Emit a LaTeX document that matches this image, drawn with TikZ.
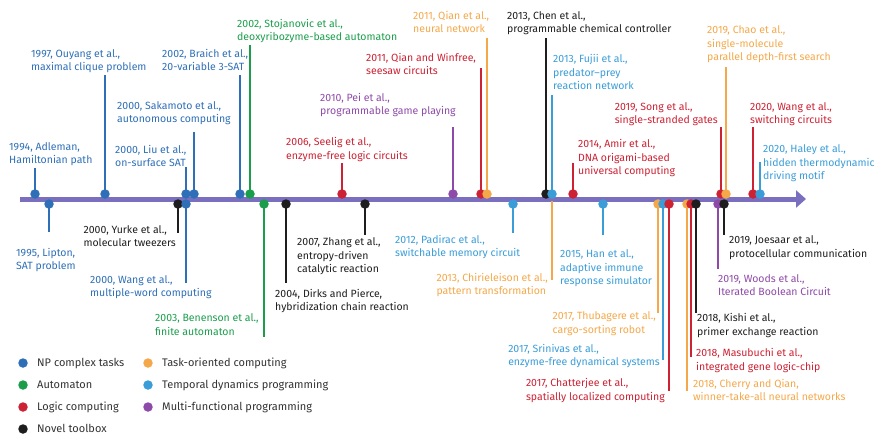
\documentclass[tikz,border=0pt]{standalone}
\usepackage{fontspec}
\setsansfont{Fira Sans}
\usepackage{xcolor}
\usepackage{tikz}
\usetikzlibrary{arrows.meta, backgrounds}
\definecolor{npblue}{HTML}{2E6FB7}
\definecolor{autogreen}{HTML}{1B9E4B}
\definecolor{logicred}{HTML}{CC2233}
\definecolor{toolblack}{HTML}{1E1E1E}
\definecolor{taskorange}{HTML}{F5A84A}
\definecolor{tempblue}{HTML}{3A9DD8}
\definecolor{multipurple}{HTML}{8E4AA8}
\definecolor{axispurple}{HTML}{7A6FBF}
\definecolor{legendgray}{HTML}{333333}
\tikzset{
  dot/.style={circle, inner sep=0pt, minimum size=9.5pt},
  stem/.style={line width=1.6pt},
  lbl/.style={font=\fontsize{10.5}{13.5}\selectfont\sffamily, align=left, inner sep=0pt, anchor=base west},
  lblr/.style={lbl, anchor=base east},
  legendtext/.style={font=\fontsize{11}{12}\selectfont\sffamily, color=legendgray, inner sep=0pt, anchor=base west},
  timeline/.style={line width=5pt, draw=axispurple, -{Triangle[length=10pt, width=17pt]}},
}

\begin{document}
\begin{tikzpicture}[x=1pt, y=-1pt]
  \useasboundingbox (0,0) rectangle (879,434);

  % Axis
  \coordinate (axisstart) at (20,199);
  \coordinate (axisend) at (806,199);

  % Events above the axis (label anchor = baseline of last line)
  \node[dot, fill=npblue] (adleman) at (35,194) {};
  \coordinate (adleman-end) at (35,168);
  \node[lbl, npblue] (adleman-lbl) at (9,163.5) {1994, Adleman,\\Hamiltonian path};

  \node[dot, fill=npblue] (ouyang) at (105,194) {};
  \coordinate (ouyang-end) at (105,75);
  \node[lbl, npblue] (ouyang-lbl) at (31,70.5) {1997, Ouyang et al.,\\maximal clique problem};

  \node[dot, fill=npblue] (liu) at (186,194) {};
  \coordinate (liu-end) at (186,167);
  \node[lbl, npblue] (liu-lbl) at (115,166.5) {2000, Liu et al.,\\on-surface SAT};

  \node[dot, fill=npblue] (sakamoto) at (194,194) {};
  \coordinate (sakamoto-end) at (194,132);
  \node[lbl, npblue] (sakamoto-lbl) at (117,122.5) {2000, Sakamoto et al.,\\autonomous computing};

  \node[dot, fill=npblue] (braich) at (240,194) {};
  \coordinate (braich-end) at (240,75);
  \node[lbl, npblue] (braich-lbl) at (162,70.5) {2002, Braich et al.,\\20-variable 3-SAT};

  \node[dot, fill=autogreen] (stojanovic) at (250,194) {};
  \coordinate (stojanovic-end) at (250,45);
  \node[lbl, autogreen] (stojanovic-lbl) at (237,40.5) {2002, Stojanovic et al.,\\deoxyribozyme-based automaton};

  \node[dot, fill=logicred] (seelig) at (342,194) {};
  \coordinate (seelig-end) at (342,163);
  \node[lbl, logicred] (seelig-lbl) at (286,159) {2006, Seelig et al.,\\enzyme-free logic circuits};

  \node[dot, fill=multipurple] (pei) at (453,194) {};
  \coordinate (pei-end) at (453,127);
  \node[lbl, multipurple] (pei-lbl) at (320,114.5) {2010, Pei et al.,\\programmable game playing};

  \node[dot, fill=logicred] (winfree) at (481,194) {};
  \coordinate (winfree-end) at (481,68);
  \node[lbl, logicred] (winfree-lbl) at (366,74.5) {2011, Qian and Winfree,\\seesaw circuits};

  \node[dot, fill=taskorange] (qiannn) at (487,194) {};
  \coordinate (qiannn-end) at (487,38);
  \node[lbl, taskorange] (qiannn-lbl) at (413,32.5) {2011, Qian et al.,\\neural network};

  \node[dot, fill=toolblack] (chen) at (546,194) {};
  \coordinate (chen-end) at (546,38);
  \node[lbl, toolblack] (chen-lbl) at (507,32.5) {2013, Chen et al.,\\programmable chemical controller};

  \node[dot, fill=tempblue] (fujii) at (552,194) {};
  \coordinate (fujii-end) at (552,95);
  \node[lbl, tempblue] (fujii-lbl) at (553,89.5) {2013, Fujii et al.,\\predator--prey\\reaction network};

  \node[dot, fill=logicred] (amir) at (573,194) {};
  \coordinate (amir-end) at (573,163);
  \node[lbl, logicred] (amir-lbl) at (578,174.5) {2014, Amir et al.,\\DNA origami-based\\universal computing};

  \node[dot, fill=logicred] (song) at (721,194) {};
  \coordinate (song-end) at (721,127);
  \node[lblr, logicred] (song-lbl) at (718,123.5) {2019, Song et al.,\\single-stranded gates};

  \node[dot, fill=taskorange] (chao) at (726,194) {};
  \coordinate (chao-end) at (726,67);
  \node[lbl, taskorange] (chao-lbl) at (707,60.5) {2019, Chao et al.,\\single-molecule\\parallel depth-first search};

  \node[dot, fill=logicred] (wangsw) at (753,194) {};
  \coordinate (wangsw-end) at (753,127);
  \node[lbl, logicred] (wangsw-lbl) at (750,123.5) {2020, Wang et al.,\\switching circuits};

  \node[dot, fill=tempblue] (haley) at (760,194) {};
  \coordinate (haley-end) at (760,162);
  \node[lbl, tempblue] (haley-lbl) at (763,179.5) {2020, Haley et al.,\\hidden thermodynamic\\driving motif};

  % Events below the axis
  \node[dot, fill=npblue] (lipton) at (49,204) {};
  \coordinate (lipton-end) at (49,232);
  \node[lbl, npblue] (lipton-lbl) at (16,269.5) {1995, Lipton,\\SAT problem};

  \node[dot, fill=toolblack] (yurke) at (178,204) {};
  \coordinate (yurke-end) at (178,233);
  \node[lblr, toolblack] (yurke-lbl) at (176,246.5) {2000, Yurke et al.,\\molecular tweezers};

  \node[dot, fill=npblue] (wangmw) at (186,204) {};
  \coordinate (wangmw-end) at (186,283);
  \node[lbl, npblue] (wangmw-lbl) at (90,296.5) {2000, Wang et al.,\\multiple-word computing};

  \node[dot, fill=autogreen] (benenson) at (264,204) {};
  \coordinate (benenson-end) at (264,337);
  \node[lbl, autogreen] (benenson-lbl) at (155,335) {2003, Benenson et al.,\\finite automaton};

  \node[dot, fill=toolblack] (dirks) at (286,204) {};
  \coordinate (dirks-end) at (286,283);
  \node[lbl, toolblack] (dirks-lbl) at (275,310.5) {2004, Dirks and Pierce,\\hybridization chain reaction};

  \node[dot, fill=toolblack] (zhang) at (365,204) {};
  \coordinate (zhang-end) at (365,235);
  \node[lbl, toolblack] (zhang-lbl) at (297,272.5) {2007, Zhang et al.,\\entropy-driven\\catalytic reaction};

  \node[dot, fill=tempblue] (padirac) at (513,204) {};
  \coordinate (padirac-end) at (513,233);
  \node[lbl, tempblue] (padirac-lbl) at (395,256.5) {2012, Padirac et al.,\\switchable memory circuit};

  \coordinate (chirieleison) at (552,201);
  \coordinate (chirieleison-end) at (552,280);
  \node[lblr, taskorange] (chirieleison-lbl) at (548,294.5) {2013, Chirieleison et al.,\\pattern transformation};

  \node[dot, fill=tempblue] (han) at (603,204) {};
  \coordinate (han-end) at (603,235);
  \node[lbl, tempblue] (han-lbl) at (560,284.5) {2015, Han et al.,\\adaptive immune\\response simulator};

  \node[dot, fill=taskorange] (thubagere) at (658,204) {};
  \coordinate (thubagere-end) at (658,313);
  \node[lblr, taskorange] (thubagere-lbl) at (656,333) {2017, Thubagere et al.,\\cargo-sorting robot};

  \node[dot, fill=tempblue] (srinivas) at (663,204) {};
  \coordinate (srinivas-end) at (663,360);
  \node[lblr, tempblue] (srinivas-lbl) at (660,365.5) {2017, Srinivas et al.,\\enzyme-free dynamical systems};

  \node[dot, fill=logicred] (chatterjee) at (669,204) {};
  \coordinate (chatterjee-end) at (669,391);
  \node[lblr, logicred] (chatterjee-lbl) at (665,400) {2017, Chatterjee et al.,\\spatially localized computing};

  \node[dot, fill=taskorange] (cherry) at (687,204) {};
  \coordinate (cherry-end) at (687,391);
  \node[lbl, taskorange] (cherry-lbl) at (693,400.5) {2018, Cherry and Qian,\\winner-take-all neural networks};

  \node[dot, fill=logicred] (masubuchi) at (691,204) {};
  \coordinate (masubuchi-end) at (691,357);
  \node[lbl, logicred] (masubuchi-lbl) at (696,370) {2018, Masubuchi et al.,\\integrated gene logic-chip};

  \node[dot, fill=toolblack] (kishi) at (696,204) {};
  \coordinate (kishi-end) at (696,313);
  \node[lbl, toolblack] (kishi-lbl) at (697,335) {2018, Kishi et al.,\\primer exchange reaction};

  \node[dot, fill=multipurple] (woods) at (718,204) {};
  \coordinate (woods-end) at (718,269);
  \node[lbl, multipurple] (woods-lbl) at (718,295.5) {2019, Woods et al.,\\Iterated Boolean Circuit};

  \node[dot, fill=toolblack] (joesaar) at (724,204) {};
  \coordinate (joesaar-end) at (724,235);
  \node[lbl, toolblack] (joesaar-lbl) at (729,257) {2019, Joesaar et al.,\\protocellular communication};

  % Axis and stems (drawn behind the dots)
  \begin{pgfonlayer}{background}
    \draw[timeline] (axisstart) -- (axisend);
    \draw[stem, npblue] (adleman.center) -- (adleman-end);
    \draw[stem, npblue] (ouyang.center) -- (ouyang-end);
    \draw[stem, npblue] (liu.center) -- (liu-end);
    \draw[stem, npblue] (sakamoto.center) -- (sakamoto-end);
    \draw[stem, npblue] (braich.center) -- (braich-end);
    \draw[stem, autogreen] (stojanovic.center) -- (stojanovic-end);
    \draw[stem, logicred] (seelig.center) -- (seelig-end);
    \draw[stem, multipurple] (pei.center) -- (pei-end);
    \draw[stem, logicred] (winfree.center) -- (winfree-end);
    \draw[stem, taskorange] (qiannn.center) -- (qiannn-end);
    \draw[stem, toolblack] (chen.center) -- (chen-end);
    \draw[stem, tempblue] (fujii.center) -- (fujii-end);
    \draw[stem, logicred] (amir.center) -- (amir-end);
    \draw[stem, logicred] (song.center) -- (song-end);
    \draw[stem, taskorange] (chao.center) -- (chao-end);
    \draw[stem, logicred] (wangsw.center) -- (wangsw-end);
    \draw[stem, tempblue] (haley.center) -- (haley-end);

    \draw[stem, npblue] (lipton.center) -- (lipton-end);
    \draw[stem, toolblack] (yurke.center) -- (yurke-end);
    \draw[stem, npblue] (wangmw.center) -- (wangmw-end);
    \draw[stem, autogreen] (benenson.center) -- (benenson-end);
    \draw[stem, toolblack] (dirks.center) -- (dirks-end);
    \draw[stem, toolblack] (zhang.center) -- (zhang-end);
    \draw[stem, tempblue] (padirac.center) -- (padirac-end);
    \draw[stem, taskorange] (chirieleison) -- (chirieleison-end);
    \draw[stem, tempblue] (han.center) -- (han-end);
    \draw[stem, taskorange] (thubagere.center) -- (thubagere-end);
    \draw[stem, tempblue] (srinivas.center) -- (srinivas-end);
    \draw[stem, logicred] (chatterjee.center) -- (chatterjee-end);
    \draw[stem, taskorange] (cherry.center) -- (cherry-end);
    \draw[stem, logicred] (masubuchi.center) -- (masubuchi-end);
    \draw[stem, toolblack] (kishi.center) -- (kishi-end);
    \draw[stem, multipurple] (woods.center) -- (woods-end);
    \draw[stem, toolblack] (joesaar.center) -- (joesaar-end);
  \end{pgfonlayer}

  % Legend
  \node[dot, fill=npblue] (key-np) at (23,363) {};
  \node[legendtext] (key-np-lbl) at (37,366.5) {NP complex tasks};
  \node[dot, fill=autogreen] (key-auto) at (23,385) {};
  \node[legendtext] (key-auto-lbl) at (37,388.5) {Automaton};
  \node[dot, fill=logicred] (key-logic) at (23,407) {};
  \node[legendtext] (key-logic-lbl) at (37,410.5) {Logic computing};
  \node[dot, fill=toolblack] (key-tool) at (23,429) {};
  \node[legendtext] (key-tool-lbl) at (37,432.5) {Novel toolbox};
  \node[dot, fill=taskorange] (key-task) at (148,363) {};
  \node[legendtext] (key-task-lbl) at (162,366.5) {Task-oriented computing};
  \node[dot, fill=tempblue] (key-temp) at (148,385) {};
  \node[legendtext] (key-temp-lbl) at (162,388.5) {Temporal dynamics programming};
  \node[dot, fill=multipurple] (key-multi) at (148,407) {};
  \node[legendtext] (key-multi-lbl) at (162,410.5) {Multi-functional programming};
\end{tikzpicture}
\end{document}
